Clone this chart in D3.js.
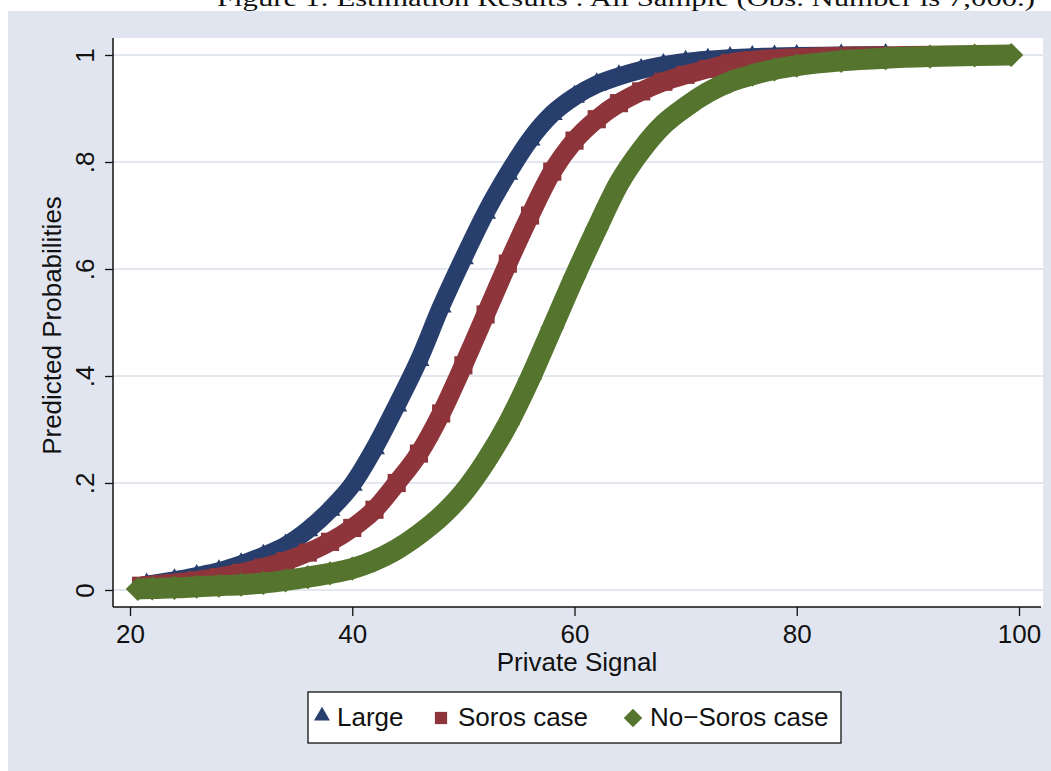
<html>
<head>
    <script src="https://d3js.org/d3.v7.min.js"></script>
</head>
<style>
    body { margin: 0; background: white; }
    text { font-family: "Liberation Sans", Arial, sans-serif; }
</style>
<body>
    <svg height="771" width="1051" id="chart"></svg>
</body>
<script>

    // values
    const large_x = [21.5, 24, 26, 28, 30, 32, 34, 36, 38, 40, 42, 44, 46, 48, 50, 52, 54, 56, 58, 60, 62, 64, 66, 68, 70, 72, 74, 76, 78, 80, 84, 88];
    const large_p = [0.010, 0.018, 0.026, 0.035, 0.048, 0.064, 0.083, 0.112, 0.150, 0.197, 0.265, 0.345, 0.430, 0.530, 0.620, 0.705, 0.778, 0.842, 0.890, 0.922, 0.945, 0.960, 0.972, 0.981, 0.987, 0.991, 0.994, 0.996, 0.997, 0.998, 0.999, 1.0];

    const soros_x = [21, 24, 26, 28, 30, 32, 34, 36, 38, 40, 42, 44, 46, 48, 50, 52, 54, 56, 58, 60, 62, 64, 66, 68, 70, 72, 74, 76, 80, 85, 90, 97];
    const soros_p = [0.008, 0.013, 0.018, 0.024, 0.032, 0.042, 0.054, 0.070, 0.090, 0.116, 0.150, 0.200, 0.255, 0.330, 0.420, 0.515, 0.610, 0.700, 0.782, 0.840, 0.880, 0.910, 0.932, 0.950, 0.963, 0.974, 0.985, 0.990, 0.995, 0.998, 0.999, 1.0];

    const nosoros_x = [20.7, 22, 24, 26, 28, 30, 32, 34, 36, 38, 40, 42, 44, 46, 48, 50, 52, 54, 56, 58, 60, 62, 64, 66, 68, 70, 72, 74, 76, 78, 80, 84, 88, 92, 96, 99.3];
    const nosoros_p = [0.002, 0.003, 0.004, 0.006, 0.008, 0.010, 0.013, 0.018, 0.024, 0.031, 0.040, 0.055, 0.076, 0.104, 0.138, 0.182, 0.240, 0.310, 0.395, 0.490, 0.585, 0.675, 0.760, 0.822, 0.870, 0.903, 0.930, 0.950, 0.963, 0.973, 0.980, 0.989, 0.994, 0.997, 0.999, 1.0];

    const series_names = ['Large', 'Soros case', 'No\u2212Soros case'];
    const x_ticks = [20, 40, 60, 80, 100];
    const y_ticks = [0, 0.2, 0.4, 0.6, 0.8, 1];
    const y_tick_labels = ['0', '.2', '.4', '.6', '.8', '1'];

    let svg = d3.select('svg#chart');

    let panel = { left: 113, right: 1043, top: 38, bottom: 607 };

    let x = d3.scaleLinear().domain([20, 100]).range([130, 1019]);
    let y = d3.scaleLinear().domain([0, 1]).range([590, 55]);

    // background
    svg.append('rect')
        .attr('x', 8).attr('y', 11)
        .attr('width', 1051 - 8).attr('height', 771 - 11)
        .attr('fill', '#e0e5ef');

    svg.append('text')
        .attr('x', 217).attr('y', 6)
        .attr('textLength', 818)
        .attr('lengthAdjust', 'spacingAndGlyphs')
        .style('font-family', '"Liberation Serif", serif')
        .style('font-size', '24px')
        .attr('fill', '#111')
        .text('Figure 1: Estimation Results : All Sample (Obs. Number is 7,000.)');

    // re-cover the title's lower edge under the background start
    svg.append('rect')
        .attr('x', 8).attr('y', 11)
        .attr('width', 1051 - 8).attr('height', 4)
        .attr('fill', '#e0e5ef');

    svg.append('rect')
        .attr('x', panel.left).attr('y', panel.top)
        .attr('width', panel.right - panel.left).attr('height', panel.bottom - panel.top)
        .attr('fill', 'white');

    // gridlines
    svg.append('g')
        .selectAll('line')
        .data(y_ticks)
        .join('line')
        .attr('x1', panel.left).attr('x2', panel.right)
        .attr('y1', d => y(d)).attr('y2', d => y(d))
        .attr('stroke', '#e3e7f0')
        .attr('stroke-width', 2);

    // axes
    let yAxis = d3.axisLeft(y).tickValues(y_ticks).tickSize(8).tickFormat((d, i) => y_tick_labels[i]);
    let xAxis = d3.axisBottom(x).tickValues(x_ticks).tickSize(9).tickPadding(4);

    let gy = svg.append('g')
        .attr('transform', `translate(${panel.left},0)`)
        .call(yAxis);
    gy.select('.domain').remove();
    gy.selectAll('line').attr('stroke', '#111').attr('stroke-width', 1.3);
    gy.selectAll('text')
        .attr('x', null).attr('dy', null)
        .attr('text-anchor', 'middle')
        .attr('transform', 'translate(-19,0) rotate(-90)')
        .style('font-size', '26px')
        .style('font-family', '"Liberation Sans", Arial, sans-serif')
        .attr('fill', '#111');

    let gx = svg.append('g')
        .attr('transform', `translate(0,${panel.bottom})`)
        .call(xAxis);
    gx.select('.domain').remove();
    gx.selectAll('line').attr('stroke', '#111').attr('stroke-width', 1.3);
    gx.selectAll('text')
        .attr('dy', null).attr('y', 36)
        .style('font-size', '26px')
        .style('font-family', '"Liberation Sans", Arial, sans-serif')
        .attr('fill', '#111');

    svg.append('line')
        .attr('x1', panel.left).attr('x2', panel.left)
        .attr('y1', panel.top).attr('y2', panel.bottom)
        .attr('stroke', '#111').attr('stroke-width', 1.5);
    svg.append('line')
        .attr('x1', panel.left).attr('x2', panel.right - 2)
        .attr('y1', panel.bottom).attr('y2', panel.bottom)
        .attr('stroke', '#111').attr('stroke-width', 1.5);

    svg.append('text')
        .attr('transform', `translate(61,${(panel.top + panel.bottom) / 2 + 3}) rotate(-90)`)
        .attr('text-anchor', 'middle')
        .style('font-size', '26px')
        .attr('fill', '#111')
        .text('Predicted Probabilities');

    svg.append('text')
        .attr('x', (panel.left + panel.right) / 2 - 1).attr('y', 671)
        .attr('text-anchor', 'middle')
        .style('font-size', '26px')
        .attr('fill', '#111')
        .text('Private Signal');

    // series
    let series = [
        { name: series_names[0], xs: large_x, ps: large_p, color: '#283f6e', band: 18, shape: d3.symbolTriangle, size: 190, rot: 0 },
        { name: series_names[1], xs: soros_x, ps: soros_p, color: '#8e353b', band: 19, shape: d3.symbolSquare, size: 330, rot: 0 },
        { name: series_names[2], xs: nosoros_x, ps: nosoros_p, color: '#55752f', band: 21, shape: d3.symbolSquare, size: 290, rot: 45 }
    ];

    let line = d3.line()
        .x(d => x(d[0]))
        .y(d => y(d[1]))
        .curve(d3.curveMonotoneX);

    let chart_area = svg.append('g');

    series.forEach(s => {
        let pts = s.xs.map((v, i) => [v, s.ps[i]]);
        let g = chart_area.append('g');
        g.append('path')
            .attr('d', line(pts))
            .attr('fill', 'none')
            .attr('stroke', s.color)
            .attr('stroke-width', s.band)
            .attr('stroke-linejoin', 'round');
        g.selectAll('path.pt')
            .data(pts)
            .join('path')
            .attr('class', 'pt')
            .attr('d', d3.symbol().type(s.shape).size(s.size))
            .attr('transform', d => `translate(${x(d[0])},${y(d[1])}) rotate(${s.rot})`)
            .attr('fill', s.color);
    });

    // legend
    let legend = svg.append('g');
    legend.append('rect')
        .attr('x', 308).attr('y', 692)
        .attr('width', 533).attr('height', 51)
        .attr('fill', 'white')
        .attr('stroke', '#111')
        .attr('stroke-width', 1.3);

    let legend_pos = [{ mx: 322, tx: 337 }, { mx: 441, tx: 458 }, { mx: 633, tx: 650 }];
    let legend_sizes = [110, 150, 170];

    series.forEach((s, i) => {
        legend.append('path')
            .attr('d', d3.symbol().type(s.shape).size(legend_sizes[i]))
            .attr('transform', `translate(${legend_pos[i].mx},${i == 0 ? 716 : 718}) rotate(${s.rot})`)
            .attr('fill', s.color);
        legend.append('text')
            .attr('x', legend_pos[i].tx).attr('y', 726)
            .style('font-size', '26px')
            .attr('fill', '#111')
            .text(s.name);
    });

</script>
</html>
